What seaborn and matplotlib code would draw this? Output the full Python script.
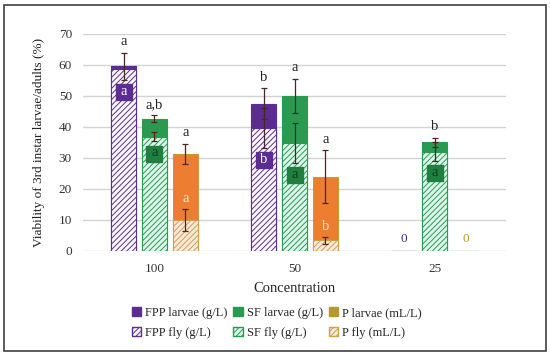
import matplotlib
matplotlib.use("Agg")
import matplotlib.pyplot as plt
from matplotlib.patches import Patch, Rectangle
import seaborn as sns
import pandas as pd
import numpy as np

# ---------------- data ----------------
concentrations = ["100", "50", "25"]
products = ["FPP", "SF", "P"]
units = ["g/L", "g/L", "mL/L"]

larvae_fpp = [59.5, 47.4, 0]
larvae_sf = [42.7, 50.0, 35.0]
larvae_p = [31.3, 24.0, 0]
larvae_err_fpp = [4.4, 5.0, 0]
larvae_err_sf = [1.0, 5.5, 1.5]
larvae_err_p = [3.3, 8.5, 0]

fly_fpp = [58.5, 39.7, 0]
fly_sf = [36.8, 34.8, 32.0]
fly_p = [10.0, 3.5, 0]
fly_err_fpp = [0, 6.5, 0]
fly_err_sf = [1.5, 6.4, 3.0]
fly_err_p = [3.5, 1.1, 0]

larvae_letters_fpp = ["a", "b", ""]
larvae_letters_sf = ["a,b", "a", "b"]
larvae_letters_p = ["a", "a", ""]
fly_letters_fpp = ["a", "b", ""]
fly_letters_sf = ["a", "a", "a"]
fly_letters_p = ["a", "b", ""]

# ---------------- styling ----------------
solid_colors = {"FPP": "#5B2D90", "SF": "#2A9A50", "P": "#ED7D31"}
fly_face = {"FPP": "#FBF9FF", "SF": "#DDF7EC", "P": "#FCE8DC"}
hatch_colors = {"FPP": "#5B2D90", "SF": "#2A9A50", "P": "#C9A24A"}
box_colors = {"FPP": "#5B2D90", "SF": "#1F7F3E"}
box_text = {"FPP": "white", "SF": "#0B3F1C"}
zero_colors = {"FPP": "#3B2A86", "SF": "#1F7F3E", "P": "#B59A2D"}
legend_solid = {"FPP": "#5B2D90", "SF": "#2A9A50", "P": "#B59A2D"}

sns.set_theme(style="white")
plt.rcParams["font.family"] = ["Liberation Serif", "DejaVu Serif"]
plt.rcParams["hatch.linewidth"] = 0.7

larvae = {"FPP": larvae_fpp, "SF": larvae_sf, "P": larvae_p}
larvae_err = {"FPP": larvae_err_fpp, "SF": larvae_err_sf, "P": larvae_err_p}
fly = {"FPP": fly_fpp, "SF": fly_sf, "P": fly_p}
fly_err = {"FPP": fly_err_fpp, "SF": fly_err_sf, "P": fly_err_p}
larvae_letters = {"FPP": larvae_letters_fpp, "SF": larvae_letters_sf, "P": larvae_letters_p}
fly_letters = {"FPP": fly_letters_fpp, "SF": fly_letters_sf, "P": fly_letters_p}

rows_l, rows_f = [], []
for p in products:
    for i, c in enumerate(concentrations):
        rows_l.append({"Concentration": c, "Product": p, "value": larvae[p][i]})
        rows_f.append({"Concentration": c, "Product": p, "value": fly[p][i]})
df_l = pd.DataFrame(rows_l)
df_f = pd.DataFrame(rows_f)

fig = plt.figure(figsize=(5.5, 3.56), dpi=100)
ax = fig.add_axes([0.151, 0.295, 0.769, 0.61])

common = dict(x="Concentration", y="value", hue="Product", order=concentrations,
              hue_order=products, width=0.66, gap=0.19, errorbar=None,
              legend=False, ax=ax, saturation=1)

sns.barplot(data=df_l, palette=solid_colors, **common)
n_l = len(ax.containers)
sns.barplot(data=df_f, palette=fly_face, **common)

larvae_containers = ax.containers[:n_l]
fly_containers = ax.containers[n_l:]

for p, cont in zip(products, larvae_containers):
    for bar in cont:
        bar.set_edgecolor(solid_colors[p] if p != "P" else "#C49A3A")
        bar.set_linewidth(0.8)
        bar.set_zorder(2)
for p, cont in zip(products, fly_containers):
    for bar in cont:
        bar.set_hatch("//////")
        bar.set_edgecolor(hatch_colors[p])
        bar.set_linewidth(0.8)
        bar.set_zorder(3)

err_color = "#4A2626"
for p, lc, fc in zip(products, larvae_containers, fly_containers):
    for i, (lb, fb) in enumerate(zip(lc, fc)):
        xc = lb.get_x() + lb.get_width() / 2
        lv, le = larvae[p][i], larvae_err[p][i]
        fv, fe = fly[p][i], fly_err[p][i]
        if le > 0:
            ax.errorbar(xc, lv, yerr=le, fmt="none", ecolor=err_color,
                        elinewidth=0.9, capsize=2.5, capthick=0.9, zorder=5)
        if fe > 0:
            ax.errorbar(xc, fv, yerr=fe, fmt="none", ecolor=err_color,
                        elinewidth=0.9, capsize=2.5, capthick=0.9, zorder=5)
        # letters above larvae bars
        if larvae_letters[p][i]:
            ax.text(xc, lv + le + 3.5, larvae_letters[p][i], ha="center",
                    va="center", fontsize=10.5, color="#222222", zorder=6)
        # letters for fly bars
        if fly_letters[p][i]:
            if p == "P":
                ax.text(xc, fv + fe + 3.3, fly_letters[p][i], ha="center",
                        va="center", fontsize=10.5, color="#FBE3D6", zorder=6)
            else:
                ly = min(lv - le, fv - fe) - 4
                ax.plot([xc], [ly], marker="s", markersize=11.5,
                        color=box_colors[p], zorder=6, linestyle="none")
                ax.text(xc, ly + 0.4, fly_letters[p][i], ha="center",
                        va="center", fontsize=10.5, color=box_text[p], zorder=7)
        if lv == 0 and fv == 0:
            ax.text(xc, 4, f"{lv:g}", ha="center", va="center",
                    fontsize=9.5, color=zero_colors[p], zorder=6)

ax.set_ylim(0, 70)
ax.set_xlim(-0.51, 2.51)
ax.set_yticks(np.arange(0, 71, 10))
ax.yaxis.grid(True, color="#D3D3D3", linewidth=1)
ax.set_axisbelow(True)
for s in ax.spines.values():
    s.set_visible(False)
ax.tick_params(axis="both", length=0, labelsize=9.5, colors="#333333")
ax.tick_params(axis="y", pad=8)
ax.tick_params(axis="x", pad=9)
ax.set_xlabel("Concentration", fontsize=10.5, color="#222222", labelpad=5)
ax.set_ylabel("Viability of 3rd instar larvae/adults (%)", fontsize=9.5,
              color="#222222", labelpad=10)

handles = []
for p, u in zip(products, units):
    handles.append(Patch(facecolor=legend_solid[p], edgecolor=legend_solid[p],
                         label=f"{p} larvae ({u})"))
    handles.append(Patch(facecolor=fly_face[p], edgecolor=hatch_colors[p],
                         hatch="//////", label=f"{p} fly ({u})"))
fig.legend(handles=handles, ncol=3, loc="center", bbox_to_anchor=(0.503, 0.093),
           frameon=False, fontsize=9, handlelength=0.75, handleheight=0.75,
           handletextpad=0.3, columnspacing=0.5, labelspacing=0.6)

fig.patches.append(Rectangle((0.008, 0.014), 0.984, 0.972, transform=fig.transFigure,
                             fill=False, edgecolor="#404040", linewidth=1.2))

fig.savefig("out.png", dpi=100)
